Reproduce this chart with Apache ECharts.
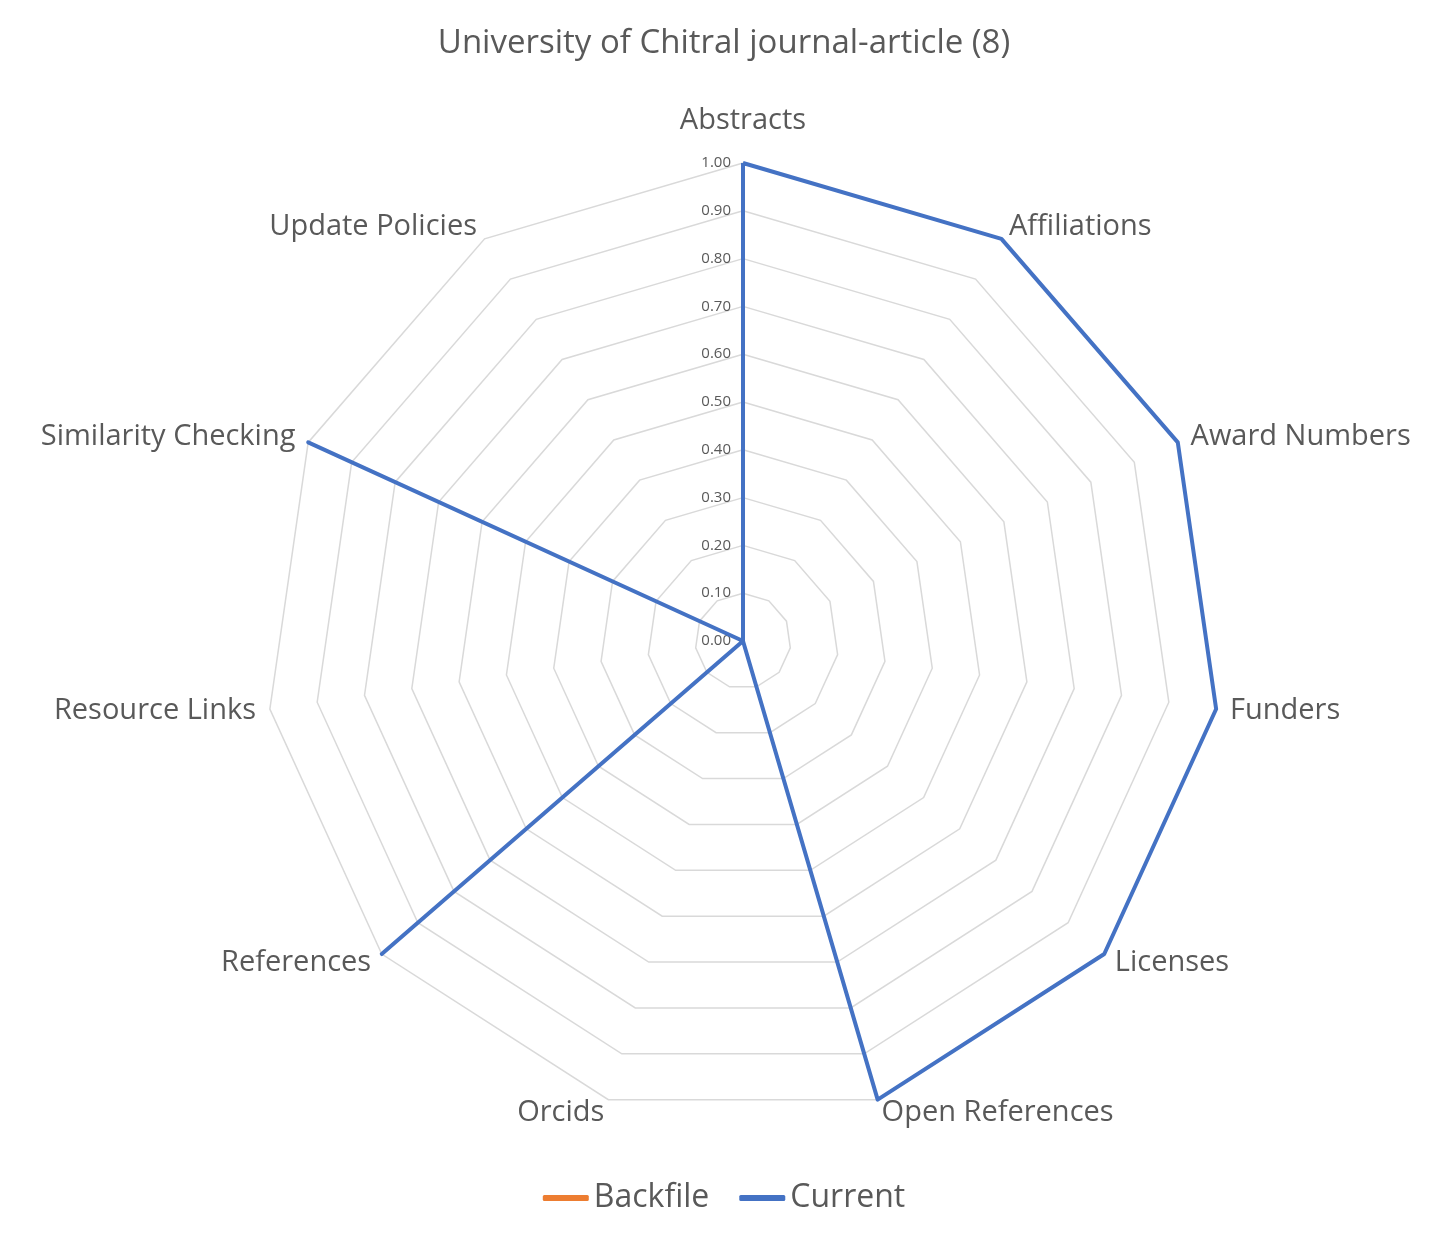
<!DOCTYPE html>
<html>
<head>
<meta charset="utf-8">
<script src="https://cdn.jsdelivr.net/npm/echarts@6/dist/echarts.min.js"></script>
<style>
html, body { margin: 0; padding: 0; background: #fff; }
#main { width: 1448px; height: 1241px; }
</style>
</head>
<body>
<div id="main"></div>
<script>
// clockwise from the top, as in the reference
var indicators = ['Abstracts', 'Affiliations', 'Award Numbers', 'Funders', 'Licenses', 'Open References',
    'Orcids', 'References', 'Resource Links', 'Similarity Checking', 'Update Policies'];
var backfile = [0, 0, 0, 0, 0, 0, 0, 0, 0, 0, 0];
var current = [1, 1, 1, 1, 1, 1, 0, 1, 0, 1, 0];
var tickMax = 1;
var tickStep = 0.1;

var textColor = '#595959';
var font = '"Open Sans", "Liberation Sans", sans-serif';
var center = [743, 641];
var radius = 478;

// echarts radar runs counter-clockwise, so keep the first item and flip the rest
function clockwise(arr) {
    return [arr[0]].concat(arr.slice(1).reverse());
}

var chart = echarts.init(document.getElementById('main'));

var option = {
    backgroundColor: '#fff',
    animation: false,
    title: {
        text: 'University of Chitral journal-article (8)',
        left: 'center',
        top: 22,
        textStyle: { color: textColor, fontSize: 33, fontWeight: 'normal', fontFamily: font }
    },
    legend: {
        bottom: 22,
        left: 'center',
        icon: 'roundRect',
        itemWidth: 46,
        itemHeight: 6,
        itemGap: 30,
        textStyle: { color: textColor, fontSize: 32, fontFamily: font },
        data: ['Backfile', 'Current']
    },
    radar: {
        center: center,
        radius: radius,
        startAngle: 90,
        splitNumber: 10,
        shape: 'polygon',
        indicator: clockwise(indicators).map(function (n) { return { name: n, max: tickMax, min: 0 }; }),
        axisName: {
            color: textColor, fontSize: 29, fontFamily: font,
            formatter: function (name) {
                return name === 'Abstracts' ? '{top|' + name + '}' : name;
            },
            rich: {
                top: { color: textColor, fontSize: 29, fontFamily: font, padding: [0, 0, 14, 0] }
            }
        },
        nameGap: 14,
        axisLine: { show: false },
        axisTick: { show: false },
        splitArea: { show: false },
        splitLine: { lineStyle: { color: '#d9d9d9', width: 1.5 } }
    },
    // polar overlay only carries the 0.00 - 1.00 tick labels along the top spoke
    polar: { center: center, radius: radius },
    angleAxis: { type: 'value', startAngle: 90, show: false },
    radiusAxis: {
        type: 'value', min: 0, max: tickMax, interval: tickStep,
        axisLine: { show: false }, axisTick: { show: false }, splitLine: { show: false },
        axisLabel: {
            color: textColor, fontSize: 15, fontFamily: font, margin: 12,
            formatter: function (v) { return v.toFixed(2); }
        }
    },
    series: [{
        type: 'radar',
        symbol: 'none',
        z: 3,
        data: [
            { name: 'Backfile', value: clockwise(backfile),
              itemStyle: { color: '#ED7D31' }, lineStyle: { color: '#ED7D31', width: 4 } },
            { name: 'Current', value: clockwise(current),
              itemStyle: { color: '#4472C4' }, lineStyle: { color: '#4472C4', width: 4 } }
        ]
    }]
};

chart.setOption(option);
</script>
</body>
</html>
